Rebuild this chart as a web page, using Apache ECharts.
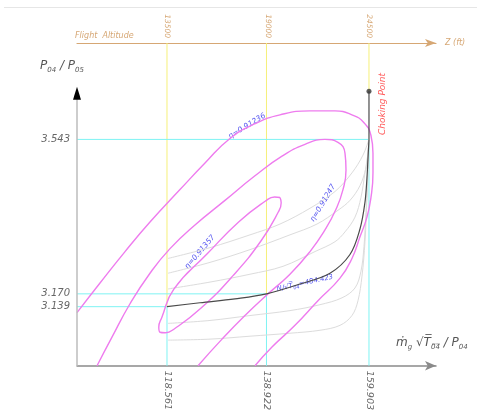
<!DOCTYPE html>
<html><head><meta charset="utf-8">
<script src="https://cdn.jsdelivr.net/npm/echarts@6/dist/echarts.min.js"></script>
<style>html,body{margin:0;padding:0;background:#fff}#c{width:477px;height:413px}</style>
</head><body><div id="c"></div>
<script>
// ---- tick values / reference points ----
const tickX = [118.561, 138.922, 159.903];
const tickY = [3.139, 3.170, 3.543];
const altitude = [13500, 19000, 24500];
const choke = [159.903, 3.6594];

// axis ranges
const X_MIN = 100.14, X_MAX = 173.62, Y_MIN = 2.9964, Y_MAX = 3.7759;
const ALT_MIN = 8599, ALT_MAX = 28148;
const Y_ARROW = 3.6547;

// operating line (N/sqrt(T04) = 484.423)
const operating = [[118.561,3.139],[125.31,3.1485],[132.48,3.158],[138.922,3.170],[145.78,3.1937],[151.92,3.2198],[156.01,3.265],[158.06,3.3267],[159.08,3.3909],[159.49,3.4503],[159.70,3.4978],[159.903,3.543]];
const chokeLine = [[159.903,3.543],[159.903,3.6594]];

// other speed lines (grey)
const speed0 = [[118.77,3.2555],[127.36,3.2816],[135.55,3.3125],[141.69,3.3386],[147.83,3.3767],[152.94,3.4171],[156.42,3.4622],[158.67,3.505],[159.903,3.543]];
const speed1 = [[118.77,3.2198],[127.36,3.246],[135.55,3.2768],[143.73,3.3125],[149.26,3.3386],[153.56,3.3719],[156.01,3.3957],[158.06,3.4313],[159.29,3.4741],[159.70,3.5097],[159.903,3.543]];
const speed2 = [[118.77,3.1818],[127.36,3.1984],[135.55,3.2174],[142.30,3.2365],[148.85,3.2721],[152.94,3.2959],[154.99,3.3196],[157.04,3.3553],[158.26,3.4028],[159.08,3.4622],[159.70,3.5097],[159.903,3.543]];
const speed3 = [[118.77,3.0986],[127.36,3.1057],[135.55,3.1176],[143.73,3.1295],[149.87,3.1438],[154.38,3.1604],[157.04,3.1842],[158.26,3.2246],[158.88,3.284],[159.29,3.3672],[159.70,3.4622],[159.903,3.543]];
const speed4 = [[118.77,3.0582],[127.36,3.0606],[135.55,3.0677],[143.73,3.0749],[149.87,3.082],[153.97,3.0939],[156.42,3.1176],[157.65,3.1533],[158.47,3.2127],[159.08,3.2959],[159.49,3.4028],[159.70,3.486],[159.903,3.543]];

// efficiency contours (magenta)
const eff91236 = [[100.14,3.1247],[104.85,3.1961],[109.97,3.2721],[115.08,3.3434],[121.22,3.4218],[126.34,3.486],[131.45,3.5454],[136.57,3.581],[141.69,3.6024],[147.83,3.6119],[152.94,3.6119],[156.42,3.6024],[158.88,3.5834],[160.31,3.5525],[160.72,3.5097],[160.72,3.4622],[160.31,3.4028],[159.49,3.3553],[158.06,3.3077],[156.42,3.2555],[153.97,3.2079],[149.46,3.1533],[144.76,3.0939],[140.05,3.0416],[136.57,2.9964]];
const eff91247 = [[104.24,2.9964],[107.30,3.0653],[110.99,3.1461],[115.08,3.2198],[119.18,3.2792],[124.29,3.3363],[130.43,3.3957],[136.57,3.4551],[142.10,3.5026],[146.80,3.5311],[150.90,3.543],[153.56,3.5359],[154.99,3.5097],[155.20,3.4693],[154.58,3.4218],[153.15,3.3743],[150.90,3.3244],[147.83,3.2721],[143.73,3.2174],[139.23,3.1699],[134.52,3.1176],[129.82,3.0606],[124.91,2.9964]];
const eff91357 = [[141.69,3.4028],[141.93,3.3902],[141.34,3.3676],[137.82,3.2982],[132.03,3.2134],[125.54,3.1357],[120.10,3.0858],[118.23,3.076],[117.13,3.0772],[116.88,3.0898],[117.48,3.1124],[120.00,3.1818],[126.79,3.2666],[133.28,3.3443],[138.72,3.3942],[140.58,3.404],[141.69,3.4028]];

const FONT = 'DejaVu Sans';
const BLUE = '#5656f0';
const TAN = '#d6a774';
const CYAN = '#7ff3f3';
const YELLOW = '#f6f07a';
const MAGENTA = '#ee7cee';
const GREY = '#dcdcdc';

function ln(data, color, width, z, extra) {
  return Object.assign({type:'line', data:data, symbol:'none', showSymbol:false,
    lineStyle:{color:color, width:width}, z:z, silent:true, animation:false}, extra || {});
}

const series = [];
tickX.forEach(function(x, i){
  series.push(ln([[X_MIN, tickY[i]],[x, tickY[i]]], CYAN, 1, 1, {clip:false}));
  series.push(ln([[x, Y_MIN],[x, tickY[i]]], CYAN, 1, 1, {clip:false}));
  series.push(ln([[x, Y_MAX],[x, i === tickX.length-1 ? choke[1] : tickY[i]]], YELLOW, 1, 1, {clip:false}));
});
[speed0, speed1, speed2, speed3, speed4].forEach(function(d){
  series.push(ln(d, GREY, 1, 2, {smooth:0.35}));
});
[eff91236, eff91247, eff91357].forEach(function(d){
  series.push(ln(d, MAGENTA, 1.4, 3, {smooth:0.5}));
});
series.push(ln(operating, '#4a4a4a', 1.2, 4, {smooth:0.35}));
series.push(ln(chokeLine, '#4a4a4a', 1.2, 4));
series.push({type:'scatter', data:[choke], symbolSize:5, itemStyle:{color:'#333'}, z:5, silent:true, animation:false});
// y axis line with black arrow head
series.push({type:'line', data:[[X_MIN, Y_MIN], {value:[X_MIN, Y_ARROW], symbol:'triangle', symbolSize:[8,13], itemStyle:{color:'#000'}}],
  symbol:'none', showSymbol:true, lineStyle:{color:'#bdbdbd', width:1.5}, clip:false, z:6, silent:true, animation:false});

const chart = echarts.init(document.getElementById('c'), null, {renderer:'canvas'});
chart.setOption({
  animation:false,
  backgroundColor:'#fff',
  grid:{left:77, top:43, width:359, height:328, containLabel:false},
  xAxis:[{
    type:'value', min:X_MIN, max:X_MAX, position:'bottom',
    axisLine:{show:true, onZero:false, lineStyle:{color:'#8a8a8a', width:1.5}, symbol:['none','arrow'], symbolSize:[7,11]},
    axisTick:{show:false}, splitLine:{show:false},
    axisLabel:{customValues:tickX, rotate:-90, margin:5, color:'#666', fontSize:9.5, fontStyle:'italic', fontFamily:FONT,
      formatter:function(v){return v.toFixed(3);}}
  },{
    type:'value', min:ALT_MIN, max:ALT_MAX, position:'top',
    axisLine:{show:true, onZero:false, lineStyle:{color:TAN, width:1.2}, symbol:['none','arrow'], symbolSize:[6,11]},
    axisTick:{show:false}, splitLine:{show:false},
    axisLabel:{customValues:altitude, rotate:90, margin:5, color:TAN, fontSize:7.5, fontStyle:'italic', fontFamily:FONT,
      formatter:function(v){return String(v);}},
    name:'Z (ft)', nameLocation:'end', nameGap:9,
    nameTextStyle:{color:TAN, fontSize:8, fontStyle:'italic', fontFamily:FONT, verticalAlign:'middle'}
  }],
  yAxis:{
    type:'value', min:Y_MIN, max:Y_MAX,
    axisLine:{show:false}, axisTick:{show:false}, splitLine:{show:false},
    axisLabel:{customValues:tickY, margin:7, color:'#666', fontSize:10, fontStyle:'italic', fontFamily:FONT,
      formatter:function(v){return v.toFixed(3);}}
  },
  series:series,
  graphic:[
    {type:'line', silent:true, shape:{x1:4, y1:7.5, x2:477, y2:7.5}, style:{stroke:'#e6e6e6', lineWidth:1}},
    {type:'text', silent:true, x:75, y:36, style:{text:'Flight  Altitude', fill:TAN, fontSize:8, fontStyle:'italic', fontFamily:FONT, align:'left', verticalAlign:'middle'}},
    {type:'text', silent:true, x:247, y:126, rotation:0.55, style:{text:'η=0.91236', fill:BLUE, fontSize:7.5, fontStyle:'italic', fontFamily:FONT, align:'center', verticalAlign:'middle'}},
    {type:'text', silent:true, x:323, y:203, rotation:1.03, style:{text:'η=0.91247', fill:BLUE, fontSize:7.5, fontStyle:'italic', fontFamily:FONT, align:'center', verticalAlign:'middle'}},
    {type:'text', silent:true, x:200, y:252, rotation:0.86, style:{text:'η=0.91357', fill:BLUE, fontSize:7.5, fontStyle:'italic', fontFamily:FONT, align:'center', verticalAlign:'middle'}},
    {type:'text', silent:true, x:305, y:283, rotation:0.22, style:{text:'{a|N/√T̅}{s|0̅4̅}{a|=484.423}', align:'center', verticalAlign:'middle',
      rich:{a:{fill:BLUE, fontSize:7, fontStyle:'italic', fontFamily:FONT, lineHeight:10, verticalAlign:'middle'},
            s:{fill:BLUE, fontSize:5, fontStyle:'italic', fontFamily:FONT, lineHeight:6, verticalAlign:'bottom'}}}},
    {type:'text', silent:true, x:383, y:104, rotation:Math.PI/2, style:{text:'Choking Point', fill:'#ff5a5a', fontSize:9, fontStyle:'italic', fontFamily:FONT, align:'center', verticalAlign:'middle'}},
    {type:'text', silent:true, x:62, y:66, style:{text:'{p|P}{s|04}{p| / P}{s|05}', align:'center', verticalAlign:'middle',
      rich:{p:{fill:'#555', fontSize:12, fontStyle:'italic', fontFamily:FONT, lineHeight:16, verticalAlign:'middle'},
            s:{fill:'#555', fontSize:7, fontStyle:'italic', fontFamily:FONT, lineHeight:8, verticalAlign:'bottom'}}}},
    {type:'text', silent:true, x:396, y:343, style:{text:'{p|ṁ}{s|g}{p| √T̅}{s|0̅4̅}{p| / P}{s|04}', align:'left', verticalAlign:'middle',
      rich:{p:{fill:'#555', fontSize:12, fontStyle:'italic', fontFamily:FONT, lineHeight:16, verticalAlign:'middle'},
            s:{fill:'#555', fontSize:7, fontStyle:'italic', fontFamily:FONT, lineHeight:8, verticalAlign:'bottom'}}}}
  ]
});
</script></body></html>
